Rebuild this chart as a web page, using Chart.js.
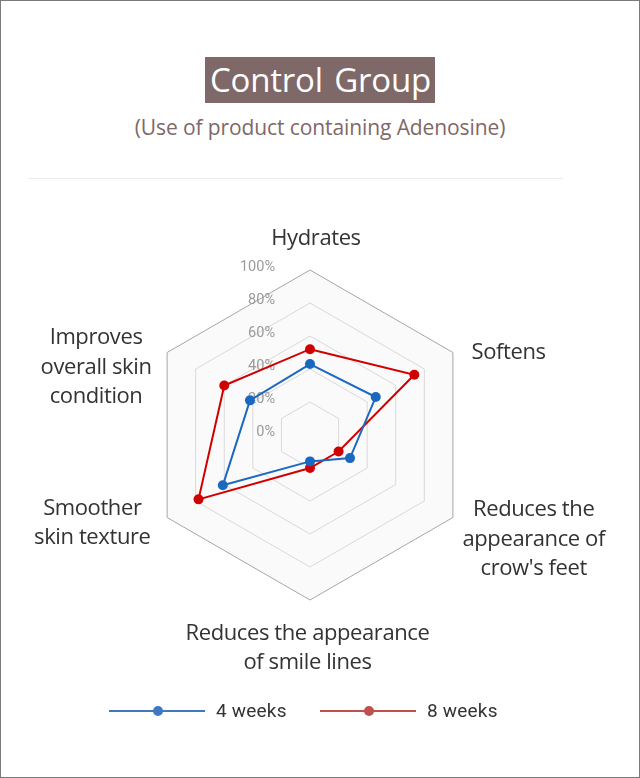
<!DOCTYPE html>
<html>
<head>
<meta charset="utf-8">
<script src="https://cdn.jsdelivr.net/npm/chart.js@4"></script>
<style>
  html, body { margin: 0; padding: 0; }
  body { width: 640px; height: 778px; position: relative; background: #fff; overflow: hidden; }
  #frame { position: absolute; left: 0; top: 0; width: 640px; height: 778px; box-sizing: border-box; border: 1px solid #7a7a7a; }
  #title { position: absolute; left: 0; width: 640px; top: 57px; text-align: center; }
  #title span { display: inline-block; background: #7f6868; color: #fff; font-family: "Open Sans", sans-serif; font-size: 33px; line-height: 46px; height: 46px; padding: 0 4px 0 5px; letter-spacing: -0.2px; word-spacing: 3px; }
  #subtitle { position: absolute; left: 0; width: 640px; top: 112px; text-align: center; color: #7f6868; font-family: "Open Sans", sans-serif; font-size: 21px; line-height: 30px; letter-spacing: -0.1px; }
  #divider { position: absolute; left: 28px; width: 535px; top: 178px; height: 1px; background: #ececec; }
  #chart { position: absolute; left: 0; top: 0; }
  #legend { position: absolute; top: 699px; left: 0; width: 640px; height: 24px; font-family: Roboto, sans-serif; font-size: 19px; color: #333; }
  .item { position: absolute; top: 0; height: 24px; }
  .item .ln { position: absolute; top: 11px; height: 2px; width: 96px; left: 0; }
  .item .dt { position: absolute; top: 7px; width: 10px; height: 10px; border-radius: 50%; left: 44px; }
  .item .tx { position: absolute; left: 107px; top: 0; line-height: 24px; white-space: nowrap; letter-spacing: 0.2px; }
</style>
</head>
<body>
<div id="frame"></div>
<div id="title"><span>Control Group</span></div>
<div id="subtitle">(Use of product containing Adenosine)</div>
<div id="divider"></div>
<canvas id="chart" width="640" height="778"></canvas>
<div id="legend"></div>
<script>
// ---- data ----
const categories = [
  ["Hydrates"],
  ["Softens"],
  ["Reduces the", "appearance of", "crow's feet"],
  ["Reduces the appearance", "of smile lines"],
  ["Smoother", "skin texture"],
  ["Improves", "overall skin", "condition"]
];
const seriesNames = ["4 weeks", "8 weeks"];
const weeks4 = [43, 46, 28, 16, 61, 42];
const weeks8 = [52, 73, 20, 20, 78, 60];
const tickValues = [0, 20, 40, 60, 80, 100];
const tickLabels = ["0%", "20%", "40%", "60%", "80%", "100%"];

// ---- styling / layout ----
const lineColors = ["#1a68c0", "#d00000"];
const legendColors = ["#3f78c0", "#c0504d"];
const legendLefts = [109, 320];
const labelPad = 18;
const labelNudge = [[6, 0], [3, 7], [-6, 11], [-2.5, -1], [-1, -5], [0, 22]];
const labelFont = '22px "Open Sans"';
const labelLineH = 29.5;

const labelsPlugin = {
  id: 'customLabels',
  beforeDatasetsDraw(chart) {
    const scale = chart.scales.r;
    const ctx = chart.ctx;
    ctx.save();
    ctx.font = '14.5px Roboto';
    ctx.fillStyle = '#9a9a9a';
    ctx.textAlign = 'right';
    ctx.textBaseline = 'middle';
    tickValues.forEach((v, k) => {
      const d = scale.getDistanceFromCenterForValue(v);
      ctx.fillText(tickLabels[k], scale.xCenter - 35, scale.yCenter - d - 3);
    });
    ctx.restore();
  },
  afterDraw(chart) {
    const scale = chart.scales.r;
    const ctx = chart.ctx;
    ctx.save();
    ctx.font = labelFont;
    if ('letterSpacing' in ctx) ctx.letterSpacing = '-0.4px';
    ctx.fillStyle = '#333333';
    ctx.textAlign = 'center';
    ctx.textBaseline = 'alphabetic';
    const R = scale.drawingArea;
    categories.forEach((lines, i) => {
      const p = scale.getPointPosition(i, R + labelPad);
      const dx = p.x - scale.xCenter, dy = p.y - scale.yCenter;
      const w = Math.max(...lines.map(l => ctx.measureText(l).width));
      const h = lines.length * labelLineH;
      let cx = p.x, cy = p.y;
      if (dx > 1) cx = p.x + w / 2; else if (dx < -1) cx = p.x - w / 2;
      if (dy < -(R + labelPad) * 0.9) cy = p.y - h / 2;
      else if (dy > (R + labelPad) * 0.9) cy = p.y + h / 2;
      cx += labelNudge[i][0]; cy += labelNudge[i][1];
      const top = cy - h / 2;
      lines.forEach((l, k) => {
        const mid = top + labelLineH * (k + 0.5);
        ctx.fillText(l, cx, mid + 8);
      });
    });
    ctx.restore();
  }
};

const series = [weeks4, weeks8];
new Chart(document.getElementById('chart'), {
  type: 'radar',
  data: {
    labels: categories,
    datasets: series.map((vals, s) => ({
      label: seriesNames[s],
      data: vals,
      borderColor: lineColors[s],
      backgroundColor: lineColors[s],
      pointBackgroundColor: lineColors[s],
      pointBorderColor: lineColors[s],
      borderWidth: 2,
      pointRadius: 5,
      pointBorderWidth: 0,
      fill: false,
      tension: 0
    }))
  },
  options: {
    responsive: false,
    animation: false,
    devicePixelRatio: 1,
    layout: { padding: { left: 145, right: 165, top: 270, bottom: 178 } },
    plugins: { legend: { display: false }, tooltip: { enabled: false }, title: { display: false } },
    scales: {
      r: {
        min: 0, max: 100,
        backgroundColor: '#fafafa',
        angleLines: { display: false },
        grid: {
          color: ctx => ctx.index === 5 ? '#a6a6a6' : '#d9d9d9',
          lineWidth: 1
        },
        ticks: { display: false, stepSize: 20 },
        pointLabels: { display: false }
      }
    }
  },
  plugins: [labelsPlugin]
});

// legend
const leg = document.getElementById('legend');
seriesNames.forEach((n, s) => {
  const it = document.createElement('div');
  it.className = 'item';
  it.style.left = legendLefts[s] + 'px';
  it.innerHTML = '<div class="ln" style="background:' + legendColors[s] + '"></div>' +
    '<div class="dt" style="background:' + legendColors[s] + '"></div>' +
    '<div class="tx">' + n + '</div>';
  leg.appendChild(it);
});
</script>
</body>
</html>
